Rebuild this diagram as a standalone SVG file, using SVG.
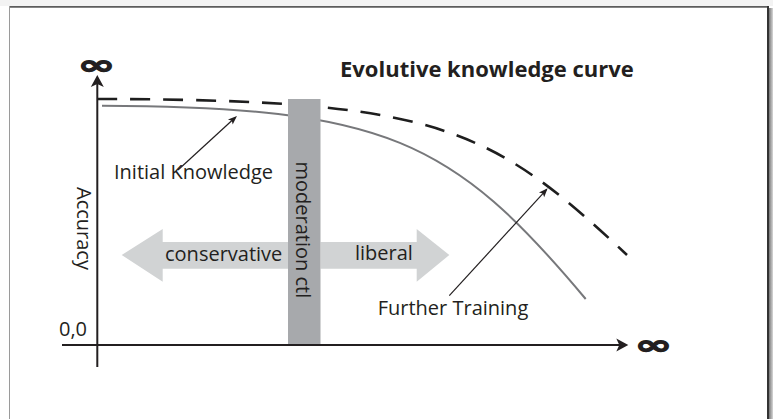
<svg xmlns="http://www.w3.org/2000/svg" width="773" height="419" viewBox="0 0 773 419">
  <defs>
    <linearGradient id="shadowR" x1="0" y1="0" x2="1" y2="0">
      <stop offset="0" stop-color="#777"/>
      <stop offset="1" stop-color="#d8d8d8"/>
    </linearGradient>
    <marker id="axisHead" viewBox="-10 -7 14 14" markerWidth="14" markerHeight="14" refX="0" refY="0" orient="auto" markerUnits="userSpaceOnUse">
      <path d="M3,0 L-9,-6.5 L-6,0 L-9,6.5 Z" fill="#231f20"/>
    </marker>
    <marker id="noteHead" viewBox="-8 -4 11 8" markerWidth="11" markerHeight="8" refX="0" refY="0" orient="auto" markerUnits="userSpaceOnUse">
      <path d="M2,0 L-7,-3.5 L-5,0 L-7,3.5 Z" fill="#231f20"/>
    </marker>
  </defs>
  <style>
    .lbl { font-family: "Open Sans", "Liberation Sans", sans-serif; font-size: 20px; fill: #231f20; }
    .title { font-family: "Open Sans", "Liberation Sans", sans-serif; font-size: 22px; font-weight: bold; fill: #231f20; }
    .inf { font-family: "DejaVu Sans", "Liberation Sans", sans-serif; font-size: 40px; font-weight: bold; fill: #231f20; stroke: #231f20; stroke-width: 1.6; }
    .axis { stroke: #231f20; stroke-width: 2; fill: none; }
    .note { stroke: #231f20; stroke-width: 1.2; fill: none; }
    .big { fill: #d1d3d4; }
  </style>

  <!-- frame -->
  <g id="frame">
    <rect x="0" y="0" width="773" height="419" fill="#ffffff"/>
    <rect x="0" y="0" width="773" height="6" fill="#f3f3f3"/>
    <rect x="9" y="6" width="759" height="413" fill="#ffffff"/>
    <line x1="9" y1="6.8" x2="768" y2="6.8" stroke="#5c5c5c" stroke-width="1.8"/>
    <line x1="9.5" y1="6" x2="9.5" y2="419" stroke="#9a9a9a" stroke-width="1"/>
    <rect x="767" y="6" width="2" height="413" fill="#333"/>
    <rect x="769" y="8" width="4" height="411" fill="url(#shadowR)"/>
  </g>

  <!-- curves -->
  <g id="curves">
    <path id="further-curve" d="M97,99 C435,99.5 489,125.3 627,255" fill="none" stroke="#1e1e1e" stroke-width="2.6" stroke-dasharray="20 13"/>
    <path id="initial-curve" d="M102,105.7 C385,107 452,139 585.7,299" fill="none" stroke="#77787b" stroke-width="2"/>
  </g>

  <!-- conservative / liberal arrows -->
  <g id="conservative">
    <polygon class="big" points="121.7,255 162.7,229 162.7,242 288,242 288,268.7 162.7,268.7 162.7,281.7"/>
    <text class="lbl" x="165" y="261">conservative</text>
  </g>
  <g id="liberal">
    <polygon class="big" points="320.5,242 416.7,242 416.7,229 449.3,255 416.7,281.7 416.7,268.7 320.5,268.7"/>
    <text class="lbl" x="355" y="260">liberal</text>
  </g>

  <!-- moderation bar -->
  <g id="moderation">
    <rect x="288" y="99" width="32.5" height="246" fill="#a7a9ac"/>
    <text class="lbl" transform="translate(296,161.5) rotate(90)">moderation ctl</text>
  </g>

  <!-- axes and annotation connectors -->
  <g id="connectors">
    <line class="axis" x1="97.3" y1="367" x2="97.3" y2="78" marker-end="url(#axisHead)"/>
    <line class="axis" x1="62" y1="345" x2="625.3" y2="345" marker-end="url(#axisHead)"/>
    <line class="note" x1="178" y1="170" x2="235.5" y2="117.3" marker-end="url(#noteHead)"/>
    <line class="note" x1="449.3" y1="295.7" x2="546.3" y2="189.8" marker-end="url(#noteHead)"/>
  </g>

  <!-- labels -->
  <g id="title">
    <text class="title" x="340" y="76.7">Evolutive knowledge curve</text>
  </g>
  <g id="initial-knowledge">
    <text class="lbl" x="114" y="178.7">Initial Knowledge</text>
  </g>
  <g id="further-training">
    <text class="lbl" x="377.7" y="315">Further Training</text>
  </g>
  <g id="accuracy">
    <text class="lbl" transform="translate(77,187) rotate(90)">Accuracy</text>
  </g>
  <g id="origin">
    <text class="lbl" x="59" y="336">0,0</text>
  </g>
  <g id="infinity-y">
    <text class="inf" transform="translate(96.5,73.5) scale(1.12,0.66)" text-anchor="middle">∞</text>
  </g>
  <g id="infinity-x">
    <text class="inf" transform="translate(653.3,353.5) scale(1.12,0.66)" text-anchor="middle">∞</text>
  </g>
</svg>
